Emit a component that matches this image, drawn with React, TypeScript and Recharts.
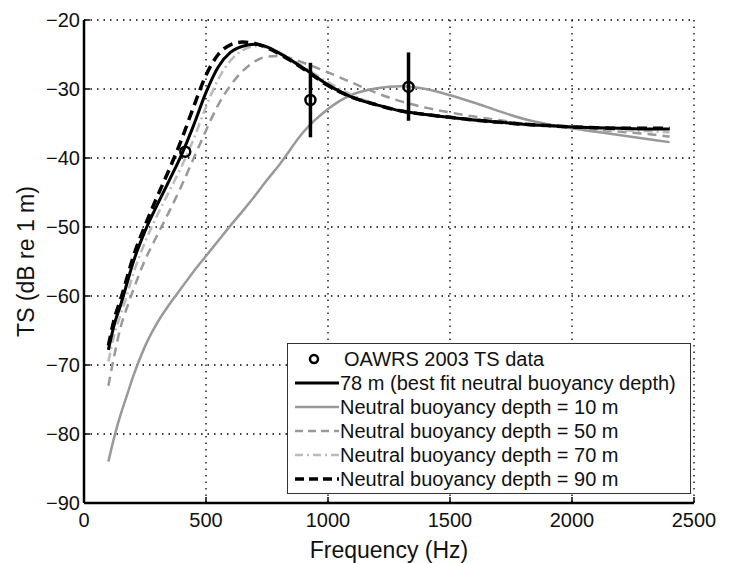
import {
  ComposedChart,
  Line,
  Scatter,
  ErrorBar,
  XAxis,
  YAxis,
  CartesianGrid,
  Legend,
} from "recharts";

const FONT = '"Liberation Sans", Arial, Helvetica, sans-serif';

// frequency grid (Hz) shared by all model curves
const FREQ = [
  100, 125, 150, 175, 200, 250, 300, 350, 400, 450, 500, 550, 600, 650, 700,
  750, 800, 900, 1000, 1100, 1200, 1300, 1400, 1500, 1600, 1700, 1800, 1900,
  2000, 2100, 2200, 2300, 2400,
];

// 78 m (best fit)
const TS_78 = [
  -67.8, -64, -61.3, -58.3, -55.3, -50.6, -46.8, -43.2, -39.5, -35.2, -30.5,
  -26.8, -24.7, -23.8, -23.5, -23.9, -24.8, -27, -29.4, -31.2, -32.3, -33.2,
  -33.7, -34.1, -34.5, -34.8, -35.1, -35.3, -35.5, -35.6, -35.7, -35.8, -35.8,
];
// 10 m
const TS_10 = [
  -84, -80.3, -77.2, -74.5, -71.8, -67.3, -63.9, -61.2, -58.8, -56.4, -54.2,
  -52, -49.8, -47.7, -45.5, -43.2, -41, -36.2, -32.9, -30.8, -29.9, -29.6,
  -30, -30.9, -32, -33.2, -34.3, -35.1, -35.7, -36.2, -36.7, -37.2, -37.7,
];
// 50 m
const TS_50 = [
  -73, -68.5, -64.5, -61.8, -59.3, -54.8, -51.2, -47.7, -44, -40, -36, -32.3,
  -29.5, -27.4, -26, -25.3, -25.2, -26.2, -27.6, -29.1, -30.6, -31.8, -32.7,
  -33.4, -34, -34.5, -35, -35.3, -35.6, -35.9, -36.2, -36.5, -36.9,
];
// 70 m
const TS_70 = [
  -69.5, -65.5, -62.7, -60, -57, -52.2, -48.3, -44.8, -41.2, -37.2, -32.6,
  -28.6, -25.9, -24.4, -23.8, -24, -24.7, -26.8, -29, -30.9, -32.2, -33.1,
  -33.7, -34.2, -34.6, -34.9, -35.2, -35.4, -35.6, -35.8, -36, -36.1, -36.3,
];
// 90 m
const TS_90 = [
  -67.2, -63.2, -60.5, -57.5, -54.5, -49.8, -45.6, -41.6, -37.3, -32.5, -28,
  -25, -23.6, -23.2, -23.4, -24, -24.9, -27.1, -29.5, -31.2, -32.3, -33.2,
  -33.7, -34.1, -34.5, -34.8, -35.1, -35.3, -35.5, -35.6, -35.7, -35.7, -35.7,
];

// OAWRS 2003 measurements
const OBS_FREQ = [415, 928, 1330];
const OBS_TS = [-39.1, -31.6, -29.7];
const OBS_ERR = [
  [0, 0],
  [5.4, 5.4],
  [4.9, 5.0],
];

const X_TICKS = [0, 500, 1000, 1500, 2000, 2500];
const Y_TICKS = [-90, -80, -70, -60, -50, -40, -30, -20];

const TABLE = FREQ.map((f, i) => ({
  f,
  d10: TS_10[i],
  d50: TS_50[i],
  d70: TS_70[i],
  d78: TS_78[i],
  d90: TS_90[i],
}));

const POINTS = OBS_FREQ.map((f, i) => ({ f, ts: OBS_TS[i], err: OBS_ERR[i] }));

const LEGEND = [
  { label: "OAWRS 2003 TS data", marker: true },
  { label: "78 m (best fit neutral buoyancy depth)", color: "#000", width: 3 },
  { label: "Neutral buoyancy depth = 10 m", color: "#999", width: 2.5 },
  { label: "Neutral buoyancy depth = 50 m", color: "#999", width: 2.5, dash: "8 5" },
  { label: "Neutral buoyancy depth = 70 m", color: "#bbb", width: 2.5, dash: "8 4 2 4" },
  { label: "Neutral buoyancy depth = 90 m", color: "#000", width: 3.5, dash: "9 5" },
];

const fmtY = (v: number) => (v < 0 ? "\u2212" + Math.abs(v) : String(v));

function LegendBox() {
  return (
    <div
      style={{
        width: 404,
        height: 151,
        boxSizing: "border-box",
        border: "1.5px solid #333",
        background: "#fff",
        paddingTop: 3,
        fontFamily: FONT,
        fontSize: 20,
        color: "#111",
      }}
    >
      {LEGEND.map((item) => (
        <div
          key={item.label}
          style={{ display: "flex", alignItems: "center", height: 24, whiteSpace: "nowrap" }}
        >
          <svg width={item.marker ? 56 : 52} height={24} style={{ flex: "none" }}>
            {item.marker ? (
              <circle cx={26} cy={12} r={4} fill="none" stroke="#000" strokeWidth={2.5} />
            ) : (
              <line
                x1={7}
                x2={51}
                y1={12}
                y2={12}
                stroke={item.color}
                strokeWidth={item.width}
                strokeDasharray={item.dash}
              />
            )}
          </svg>
          <span>{item.label}</span>
        </div>
      ))}
    </div>
  );
}

const Dot = (p: any) => (
  <circle cx={p.cx} cy={p.cy} r={5} fill="none" stroke="#000" strokeWidth={2.5} />
);

export default function App() {
  const tickStyle = { fontSize: 20, fontFamily: FONT, fill: "#111" };
  const axisLine = { stroke: "#000", strokeWidth: 2.5 };
  const tickLine = { stroke: "#000", strokeWidth: 1.5 };

  return (
    <ComposedChart
      width={723}
      height={555}
      data={TABLE}
      margin={{ top: 12, right: 37, bottom: 0, left: 0 }}
      style={{ background: "#fff" }}
    >
      <CartesianGrid stroke="#000" strokeWidth={1.3} strokeDasharray="1.5 5" />
      <XAxis
        dataKey="f"
        type="number"
        domain={[0, 2500]}
        ticks={X_TICKS}
        height={60}
        tickSize={-6}
        tickMargin={16}
        tick={tickStyle}
        axisLine={axisLine}
        tickLine={tickLine}
        label={(p: any) => (
          <text
            x={p.viewBox.x + p.viewBox.width / 2}
            y={550}
            textAnchor="middle"
            fontFamily={FONT}
            fontSize={23}
            fill="#111"
          >
            Frequency (Hz)
          </text>
        )}
      />
      <XAxis
        xAxisId="top"
        orientation="top"
        type="number"
        domain={[0, 2500]}
        ticks={X_TICKS}
        height={0}
        tickSize={-6}
        tick={false}
        axisLine={axisLine}
        tickLine={tickLine}
      />
      <YAxis
        type="number"
        domain={[-90, -20]}
        ticks={Y_TICKS}
        width={76}
        tickSize={-6}
        tickMargin={10}
        tick={tickStyle}
        tickFormatter={fmtY}
        axisLine={axisLine}
        tickLine={tickLine}
        label={(p: any) => {
          const cy = p.viewBox.y + p.viewBox.height / 2;
          return (
            <text
              x={18}
              y={cy}
              transform={`rotate(-90, 18, ${cy})`}
              textAnchor="middle"
              dominantBaseline="central"
              fontFamily={FONT}
              fontSize={23}
              fill="#111"
            >
              TS (dB re 1 m)
            </text>
          );
        }}
      />
      <YAxis
        yAxisId="right"
        orientation="right"
        type="number"
        domain={[-90, -20]}
        ticks={Y_TICKS}
        width={0}
        tickSize={-6}
        tick={false}
        axisLine={axisLine}
        tickLine={tickLine}
      />
      <Line
        dataKey="d10"
        type="monotone"
        stroke="#999"
        strokeWidth={2.5}
        dot={false}
        isAnimationActive={false}
      />
      <Line
        dataKey="d50"
        type="monotone"
        stroke="#999"
        strokeWidth={2.5}
        strokeDasharray="9 6"
        dot={false}
        isAnimationActive={false}
      />
      <Line
        dataKey="d70"
        type="monotone"
        stroke="#bbb"
        strokeWidth={2.5}
        strokeDasharray="9 4 2 4"
        dot={false}
        isAnimationActive={false}
      />
      <Line
        dataKey="d78"
        type="monotone"
        stroke="#000"
        strokeWidth={3}
        dot={false}
        isAnimationActive={false}
      />
      <Line
        dataKey="d90"
        type="monotone"
        stroke="#000"
        strokeWidth={3.5}
        strokeDasharray="10 6"
        dot={false}
        isAnimationActive={false}
      />
      <Scatter data={POINTS} dataKey="ts" shape={Dot} isAnimationActive={false}>
        <ErrorBar
          dataKey="err"
          direction="y"
          width={0}
          stroke="#000"
          strokeWidth={3.5}
          isAnimationActive={false}
        />
      </Scatter>
      <Legend
        layout="vertical"
        align="center"
        verticalAlign="middle"
        content={() => <LegendBox />}
        wrapperStyle={{ left: 279, top: 335, width: 404, height: 151 }}
      />
    </ComposedChart>
  );
}
